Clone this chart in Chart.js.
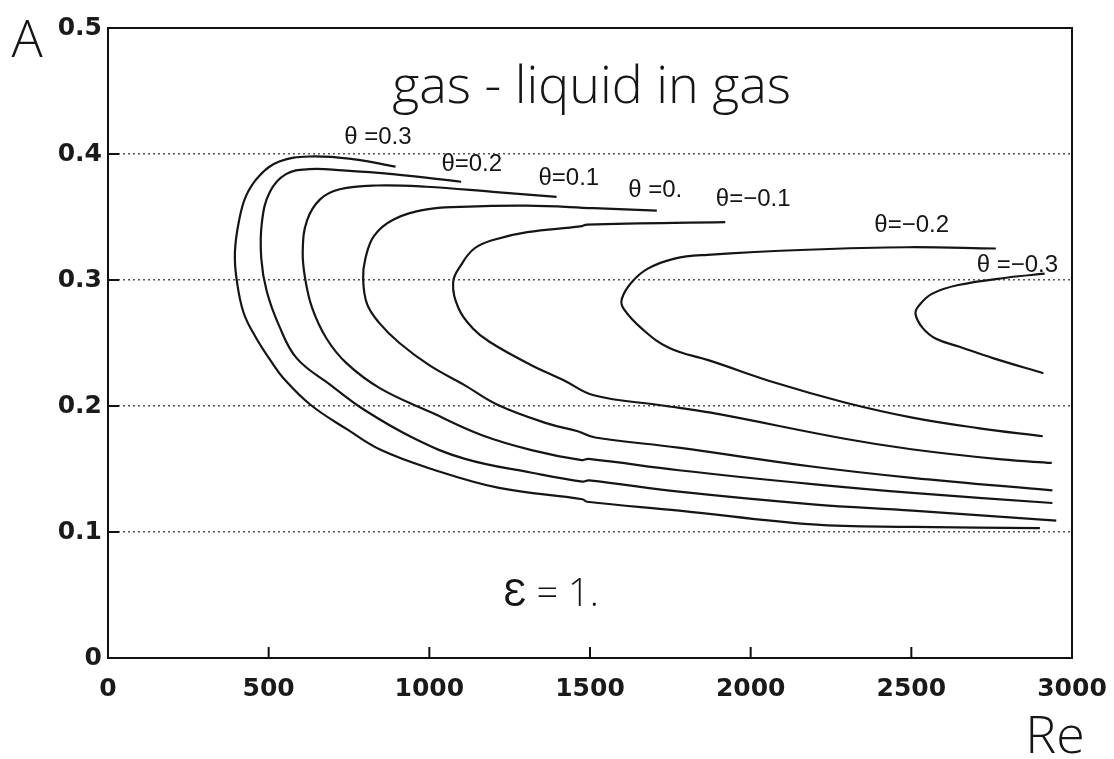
<!DOCTYPE html>
<html>
<head>
<meta charset="utf-8">
<script src="https://cdn.jsdelivr.net/npm/chart.js@4"></script>
<style>
  html, body { margin: 0; padding: 0; background: #fff; }
  #wrap { width: 1114px; height: 759px; }
</style>
</head>
<body>
<div id="wrap"><canvas id="chart" width="1114" height="759"></canvas></div>
<script>
// axis ticks
const xTicks = [0, 500, 1000, 1500, 2000, 2500, 3000];
const yTicks = [0, 0.1, 0.2, 0.3, 0.4, 0.5];

// neutral curves, one per theta (Re, A)
const reP03 = [895, 761, 626, 533, 472, 430, 407, 395, 400, 422, 461, 514, 546, 630, 747, 850, 1007, 1217, 1476, 1491, 1778, 2193, 2504, 2900];
const aP03  = [0.390, 0.396, 0.398, 0.394, 0.383, 0.367, 0.346, 0.322, 0.301, 0.274, 0.254, 0.233, 0.222, 0.201, 0.181, 0.165, 0.150, 0.135, 0.126, 0.124, 0.117, 0.106, 0.104, 0.103];

const reP02 = [1099, 886, 730, 627, 554, 504, 479, 477, 494, 532, 587, 691, 797, 955, 1111, 1319, 1476, 1497, 1777, 2193, 2504, 2951];
const aP02  = [0.378, 0.384, 0.387, 0.388, 0.384, 0.370, 0.346, 0.317, 0.291, 0.264, 0.238, 0.217, 0.197, 0.174, 0.158, 0.147, 0.140, 0.141, 0.132, 0.122, 0.117, 0.109];

const reP01 = [1396, 1198, 991, 835, 721, 660, 619, 606, 613, 635, 679, 742, 847, 1005, 1162, 1318, 1474, 1495, 1776, 2192, 2503, 2939];
const aP01  = [0.366, 0.370, 0.374, 0.375, 0.372, 0.364, 0.347, 0.323, 0.302, 0.278, 0.254, 0.234, 0.214, 0.195, 0.177, 0.165, 0.157, 0.158, 0.149, 0.138, 0.131, 0.123];

const reZ = [1708, 1511, 1302, 1096, 992, 889, 828, 801, 794, 806, 844, 907, 1002, 1107, 1212, 1369, 1462, 1516, 1775, 2190, 2502, 2939];
const aZ  = [0.355, 0.357, 0.359, 0.358, 0.356, 0.348, 0.335, 0.317, 0.301, 0.281, 0.266, 0.250, 0.232, 0.217, 0.201, 0.186, 0.180, 0.175, 0.167, 0.152, 0.143, 0.133];

const reM01 = [1921, 1491, 1470, 1305, 1201, 1140, 1099, 1074, 1092, 1134, 1187, 1313, 1418, 1512, 1720, 1876, 2293, 2500, 2781, 2937];
const aM01  = [0.346, 0.344, 0.3425, 0.338, 0.332, 0.325, 0.312, 0.298, 0.277, 0.262, 0.251, 0.233, 0.2205, 0.2085, 0.2006, 0.1947, 0.174, 0.1657, 0.1576, 0.1548];

const reM02 = [2763, 2488, 2177, 1866, 1763, 1680, 1629, 1599, 1605, 1663, 1747, 1873, 2082, 2290, 2499, 2707, 2909];
const aM02  = [0.325, 0.326, 0.324, 0.320, 0.317, 0.309, 0.298, 0.285, 0.277, 0.261, 0.246, 0.236, 0.218, 0.203, 0.191, 0.1825, 0.176];

const reM03 = [2915, 2801, 2646, 2564, 2523, 2513, 2535, 2577, 2650, 2754, 2911];
const aM03  = [0.305, 0.302, 0.296, 0.289, 0.2795, 0.273, 0.262, 0.2533, 0.247, 0.238, 0.226];

// curve labels, placed in data units
const labelText = ['θ =0.3', 'θ=0.2', 'θ=0.1', 'θ =0.', 'θ=−0.1', 'θ=−0.2', 'θ =−0.3'];
const labelRe = [840, 1132, 1434, 1703, 2008, 2501, 2830];
const labelA  = [0.413, 0.392, 0.381, 0.371, 0.364, 0.343, 0.312];

const titleText = 'gas - liquid in gas';
const epsText = 'Ɛ = 1.';

const curves = [
  [reP03, aP03], [reP02, aP02], [reP01, aP01], [reZ, aZ],
  [reM01, aM01], [reM02, aM02], [reM03, aM03]
];

const datasets = curves.map(([re, a], i) => ({
  label: labelText[i],
  data: re.map((x, k) => ({ x: x, y: a[k] })),
  borderColor: '#151515',
  borderWidth: 2.2,
  pointRadius: 0,
  tension: 0.4,
  fill: false
}));

const tickFont = { family: '"DejaVu Sans", Verdana, sans-serif', size: 25, weight: 'bold' };

const annotate = {
  id: 'annotate',
  afterDatasetsDraw(chart) {
    const { ctx, chartArea: ca, scales: { x, y } } = chart;
    ctx.save();

    // frame + inward tick marks
    ctx.strokeStyle = '#111';
    ctx.lineWidth = 2;
    ctx.strokeRect(ca.left, ca.top, ca.right - ca.left, ca.bottom - ca.top);
    ctx.beginPath();
    xTicks.slice(1, -1).forEach(v => {
      const px = x.getPixelForValue(v);
      ctx.moveTo(px, ca.bottom);
      ctx.lineTo(px, ca.bottom - 11);
    });
    yTicks.slice(1, -1).forEach(v => {
      const py = y.getPixelForValue(v);
      ctx.moveTo(ca.left, py);
      ctx.lineTo(ca.left + 11, py);
    });
    ctx.stroke();

    ctx.fillStyle = '#151515';
    ctx.textAlign = 'center';
    ctx.textBaseline = 'middle';

    ctx.font = '24px "Liberation Sans", Arial, sans-serif';
    labelText.forEach((t, i) => {
      ctx.fillText(t, x.getPixelForValue(labelRe[i]), y.getPixelForValue(labelA[i]));
    });

    ctx.font = '300 52px "Open Sans", sans-serif';
    ctx.fillText(titleText, x.getPixelForValue(1505), y.getPixelForValue(0.452));

    ctx.font = '300 38px "Open Sans", sans-serif';
    ctx.fillText(epsText, x.getPixelForValue(1379), y.getPixelForValue(0.05));

    // axis names
    ctx.font = '300 52px "Open Sans", sans-serif';
    ctx.fillText('A', ca.left - 81, ca.top + 14);
    ctx.fillText('Re', ca.right - 17, ca.bottom + 80);

    ctx.restore();
  }
};

new Chart(document.getElementById('chart'), {
  type: 'line',
  data: { datasets: datasets },
  plugins: [annotate],
  options: {
    responsive: false,
    animation: false,
    layout: { padding: { top: 28, right: 42, left: 0, bottom: 0 } },
    plugins: {
      legend: { display: false },
      tooltip: { enabled: false }
    },
    scales: {
      x: {
        type: 'linear',
        min: 0,
        max: 3000,
        afterFit: s => { s.height = 101; s.paddingLeft = 0; s.paddingRight = 0; },
        afterBuildTicks: s => { s.ticks = xTicks.map(v => ({ value: v })); },
        grid: { display: false, drawTicks: false },
        border: { display: false },
        ticks: {
          padding: 16,
          color: '#1a1a1a',
          font: tickFont,
          callback: v => String(v)
        }
      },
      y: {
        type: 'linear',
        min: 0,
        max: 0.5,
        afterFit: s => { s.width = 108; s.paddingTop = 0; s.paddingBottom = 0; },
        afterBuildTicks: s => { s.ticks = yTicks.map(v => ({ value: v })); },
        grid: {
          drawTicks: false,
          lineWidth: 1.6,
          color: c => (c.tick && (c.tick.value === 0 || c.tick.value === 0.5)) ? 'rgba(0,0,0,0)' : '#555'
        },
        border: { display: false, dash: [2, 3] },
        ticks: {
          padding: 6,
          color: '#1a1a1a',
          font: tickFont,
          callback: v => v === 0 ? '0' : v.toFixed(1)
        }
      }
    }
  }
});
</script>
</body>
</html>
